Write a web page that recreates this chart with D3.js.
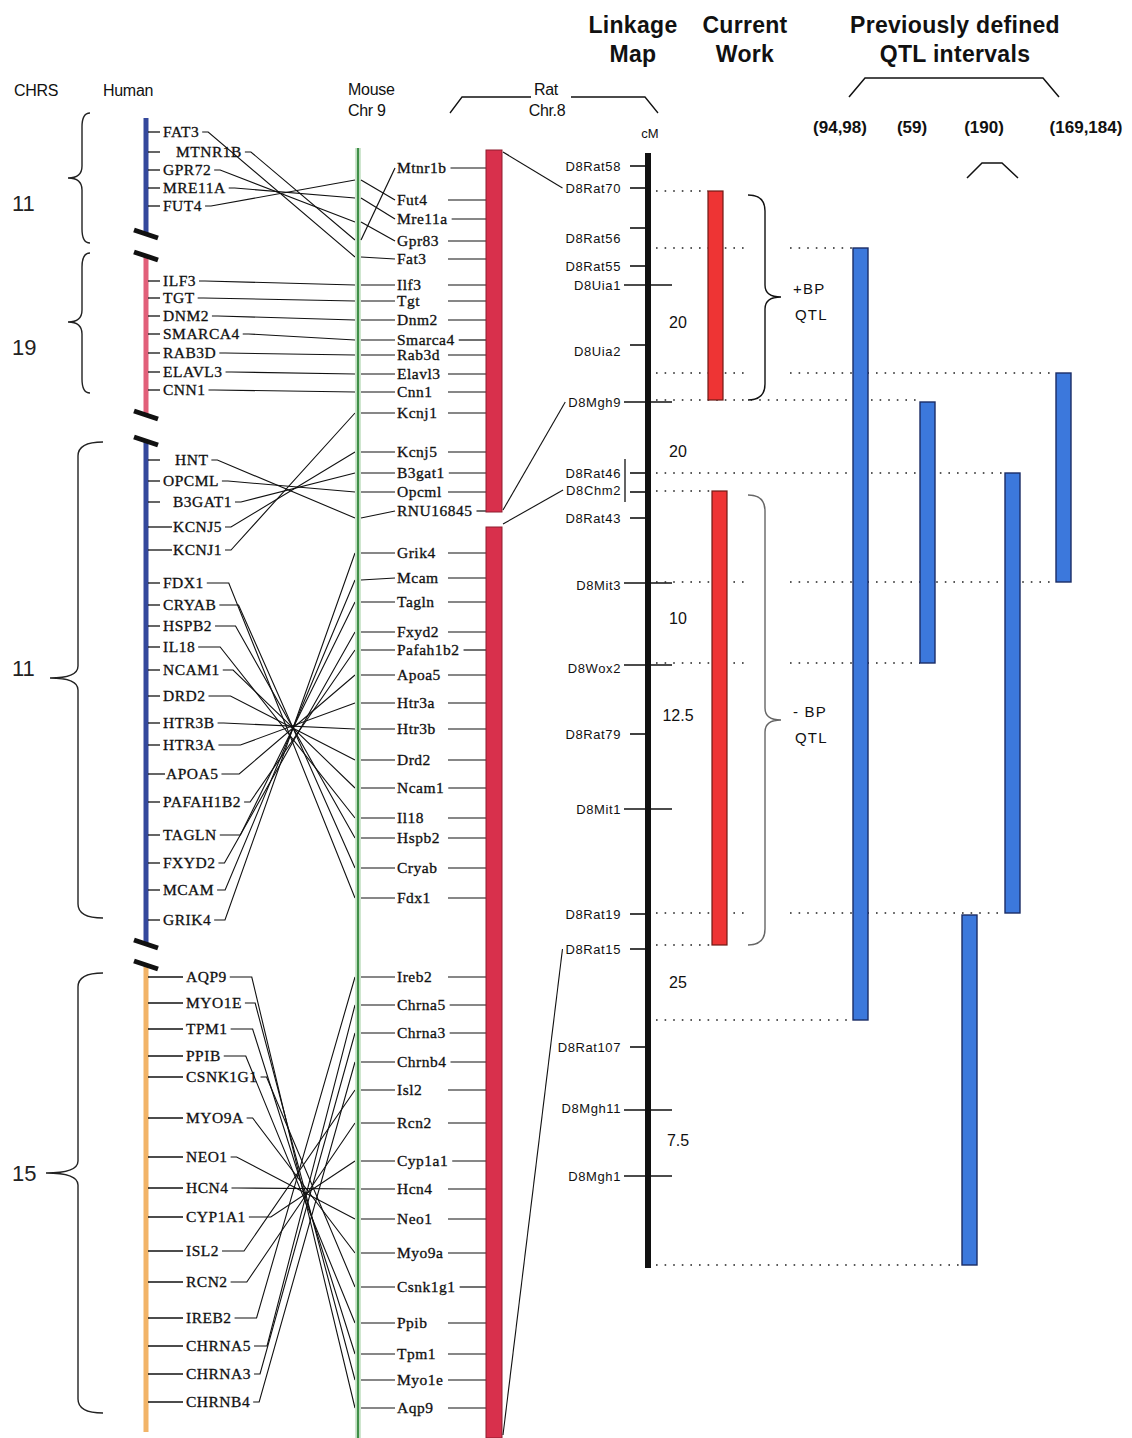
<!DOCTYPE html>
<html>
<head>
<meta charset="utf-8">
<script src="https://cdn.jsdelivr.net/npm/d3@7"></script>
<style>
  body { margin: 0; background: #fff; }
  svg { display: block; }
</style>
</head>
<body>
<svg id="chart" width="1132" height="1438"></svg>
<script>
// ---------- Data (positions are in map units along the vertical axis) ----------

// Human chromosome segments
const humanSegChr   = ["11", "19", "11", "15"];
const humanSegStart = [118, 256, 441, 965];
const humanSegEnd   = [234, 415, 944, 1432];

// Human genes and their positions
const humanGenes = [
  "FAT3", "MTNR1B", "GPR72", "MRE11A", "FUT4",
  "ILF3", "TGT", "DNM2", "SMARCA4", "RAB3D", "ELAVL3", "CNN1",
  "HNT", "OPCML", "B3GAT1", "KCNJ5", "KCNJ1", "FDX1", "CRYAB", "HSPB2", "IL18",
  "NCAM1", "DRD2", "HTR3B", "HTR3A", "APOA5", "PAFAH1B2", "TAGLN", "FXYD2", "MCAM", "GRIK4",
  "AQP9", "MYO1E", "TPM1", "PPIB", "CSNK1G1", "MYO9A", "NEO1", "HCN4", "CYP1A1",
  "ISL2", "RCN2", "IREB2", "CHRNA5", "CHRNA3", "CHRNB4"
];
const humanPos = [
  132, 152, 170, 188, 206,
  281, 298, 316, 334, 353, 372, 390,
  460, 481, 502, 527, 550, 583, 605, 626, 647,
  670, 696, 723, 745, 774, 802, 835, 863, 890, 920,
  977, 1003, 1029, 1056, 1077, 1118, 1157, 1188, 1217,
  1251, 1282, 1318, 1346, 1374, 1402
];

// Mouse chromosome 9 genes: label position, position on the chromosome, human ortholog
const mouseGenes = [
  "Mtnr1b", "Fut4", "Mre11a", "Gpr83", "Fat3",
  "Ilf3", "Tgt", "Dnm2", "Smarca4", "Rab3d", "Elavl3", "Cnn1",
  "Kcnj1", "Kcnj5", "B3gat1", "Opcml", "RNU16845",
  "Grik4", "Mcam", "Tagln", "Fxyd2", "Pafah1b2", "Apoa5", "Htr3a", "Htr3b",
  "Drd2", "Ncam1", "Il18", "Hspb2", "Cryab", "Fdx1",
  "Ireb2", "Chrna5", "Chrna3", "Chrnb4", "Isl2", "Rcn2", "Cyp1a1", "Hcn4",
  "Neo1", "Myo9a", "Csnk1g1", "Ppib", "Tpm1", "Myo1e", "Aqp9"
];
const mouseLabelPos = [
  168, 200, 219, 241, 259,
  285, 301, 320, 340, 355, 374, 392,
  413, 452, 473, 492, 511,
  553, 578, 602, 632, 650, 675, 703, 729,
  760, 788, 818, 838, 868, 898,
  977, 1005, 1033, 1062, 1090, 1123, 1161, 1189,
  1219, 1253, 1287, 1323, 1354, 1380, 1408
];
const mouseChrPos = [
  240, 180, 198, 222, 257,
  285, 301, 320, 340, 355, 374, 392,
  413, 452, 473, 492, 518,
  553, 580, 602, 632, 650, 675, 703, 729,
  760, 788, 818, 838, 868, 898,
  977, 1005, 1033, 1062, 1090, 1123, 1161, 1189,
  1219, 1253, 1287, 1323, 1354, 1380, 1408
];
const mouseOrtholog = [
  "MTNR1B", "FUT4", "MRE11A", "GPR72", "FAT3",
  "ILF3", "TGT", "DNM2", "SMARCA4", "RAB3D", "ELAVL3", "CNN1",
  "KCNJ1", "KCNJ5", "B3GAT1", "OPCML", "HNT",
  "GRIK4", "MCAM", "TAGLN", "FXYD2", "PAFAH1B2", "APOA5", "HTR3A", "HTR3B",
  "DRD2", "NCAM1", "IL18", "HSPB2", "CRYAB", "FDX1",
  "IREB2", "CHRNA5", "CHRNA3", "CHRNB4", "ISL2", "RCN2", "CYP1A1", "HCN4",
  "NEO1", "MYO9A", "CSNK1G1", "PPIB", "TPM1", "MYO1E", "AQP9"
];

// Rat chromosome 8 segments and the linkage markers their ends align with
const ratSegStart = [150, 527];
const ratSegEnd   = [512, 1438];
const ratSegStartMarker = ["D8Rat70", "D8Chm2"];
const ratSegEndMarker   = ["D8Mgh9", "D8Rat15"];

// Linkage map markers
const markers = [
  "D8Rat58", "D8Rat70", "D8Rat56", "D8Rat55", "D8Uia1", "D8Uia2", "D8Mgh9",
  "D8Rat46", "D8Chm2", "D8Rat43", "D8Mit3", "D8Wox2", "D8Rat79", "D8Mit1",
  "D8Rat19", "D8Rat15", "D8Rat107", "D8Mgh11", "D8Mgh1"
];
const markerPos = [
  166, 188, 228, 266, 285, 345, 402,
  473, 492, 518, 583, 665, 734, 809,
  914, 949, 1047, 1110, 1176
];
const markerLabelPos = [
  166, 188, 238, 266, 285, 351, 402,
  473, 490, 518, 585, 668, 734, 809,
  914, 949, 1047, 1108, 1176
];
const frameworkMarkers = ["D8Uia1", "D8Mgh9", "D8Mit3", "D8Wox2", "D8Mit1", "D8Mgh11", "D8Mgh1"];
const linkageStart = 153, linkageEnd = 1268;

// Interval distances (cM)
const cmText = ["20", "20", "10", "12.5", "25", "7.5"];
const cmPos  = [322, 451, 618, 715, 982, 1140];

// Current work QTL intervals
const currentStart = [191, 491];
const currentEnd   = [400, 945];
const currentSign  = ["+BP", "- BP"];

// Previously defined QTL intervals
const qtlStudies = ["(94,98)", "(59)", "(190)", "(169,184)"];
const qtlStudyOf = [0, 1, 2, 2, 3];
const qtlStart   = [248, 402, 473, 915, 373];
const qtlEnd     = [1020, 663, 913, 1265, 582];

// ---------- Layout ----------
const W = 1132, H = 1438;
const FS = "'Liberation Sans', Arial, sans-serif";
const FR = "'Liberation Serif', 'Times New Roman', serif";
const humanX = 146, mouseX = 358, ratX = 486, ratW = 16, linkX = 648;
const segColor = ["#34489c", "#e2607a", "#34489c", "#f2b468"];
const humanBrace = [[113, 243, 178], [253, 393, 322], [442, 918, 678], [973, 1413, 1173]];
const humanBraceX = [[90, 82, 68], [90, 82, 68], [103, 78, 50], [103, 78, 46]];
const humanChrLabelY = [203, 347, 668, 1173];
const qtlBarX = [853, 920, 1005, 962, 1056];
const currentBarX = [708, 712];
const qtlLabelX = [840, 912, 984, 1086];
const spacedLabels = { MTNR1B: 13, HNT: 12, B3GAT1: 10, KCNJ5: 10, KCNJ1: 10, APOA5: 3 };
// where the crossing bundles of connector lines meet (human position range -> knot)
const knots = [
  { from: 441, to: 560, x: 285, y: 490 },
  { from: 570, to: 944, x: 293, y: 728 },
  { from: 965, to: 1432, x: 306, y: 1195 }
];
const maxStub = 22;

const y = d3.scaleLinear().domain([0, H]).range([0, H]);
const svg = d3.select("#chart");

function brace(y0, y1, yt, xe, xv, xt, r) {
  return `M${xe},${y0} Q${xv},${y0} ${xv},${y0 + r} L${xv},${yt - 12} Q${xv},${yt} ${xt},${yt}` +
         ` Q${xv},${yt} ${xv},${yt + 12} L${xv},${y1 - r} Q${xv},${y1} ${xe},${y1}`;
}

// ---------- Header ----------
const head = svg.append("g").attr("font-family", FS).attr("fill", "#111");
[["Linkage", 633, 33], ["Map", 633, 62], ["Current", 745, 33], ["Work", 745, 62],
 ["Previously defined", 955, 33], ["QTL intervals", 955, 62]].forEach(([t, x, yy]) => {
  head.append("text").attr("x", x).attr("y", yy).attr("text-anchor", "middle")
    .attr("font-size", 23).attr("font-weight", "bold").attr("letter-spacing", 0.3).text(t);
});
[["CHRS", 14, 96, "start"], ["Human", 103, 96, "start"], ["Mouse", 348, 95, "start"],
 ["Chr 9", 348, 116, "start"], ["Rat", 546, 95, "middle"], ["Chr.8", 547, 116, "middle"]].forEach(([t, x, yy, a]) => {
  head.append("text").attr("x", x).attr("y", yy).attr("text-anchor", a)
    .attr("font-size", 16).attr("letter-spacing", -0.3).text(t);
});
head.append("text").attr("x", 650).attr("y", 138).attr("text-anchor", "middle").attr("font-size", 13).text("cM");

// Rat bracket
svg.append("path").attr("d", "M450,113 L462,97 L531,97 M571,97 L645,97 L658,113")
  .attr("fill", "none").attr("stroke", "#111").attr("stroke-width", 1.3);
// QTL bracket and caret
svg.append("path").attr("d", "M849,97 L865,78 L1043,78 L1059,97 M967,178 L982,163 L1002,163 L1018,178")
  .attr("fill", "none").attr("stroke", "#111").attr("stroke-width", 1.5);
qtlStudies.forEach((s, i) => {
  head.append("text").attr("x", qtlLabelX[i]).attr("y", 133).attr("text-anchor", "middle")
    .attr("font-size", 17).attr("font-weight", "bold").text(s);
});

// ---------- Human chromosome ----------
const hg = svg.append("g");
humanSegChr.forEach((c, i) => {
  hg.append("line").attr("x1", humanX).attr("x2", humanX)
    .attr("y1", y(humanSegStart[i])).attr("y2", y(humanSegEnd[i]))
    .attr("stroke", segColor[i]).attr("stroke-width", 5);
  const [b0, b1, bt] = humanBrace[i];
  const [xe, xv, xt] = humanBraceX[i];
  hg.append("path").attr("d", brace(y(b0), y(b1), y(bt), xe, xv, xt, 14))
    .attr("fill", "none").attr("stroke", "#222").attr("stroke-width", 1.4);
  hg.append("text").attr("x", 12).attr("y", y(humanChrLabelY[i]) + 8)
    .attr("font-family", FS).attr("font-size", 22).attr("fill", "#222").text(c);
});
// break marks between segments
const breaks = [];
humanSegStart.forEach((s, i) => { if (i > 0) breaks.push(s); });
humanSegEnd.forEach((e, i) => { if (i < humanSegEnd.length - 1) breaks.push(e); });
hg.selectAll("line.brk").data(breaks).join("line").attr("class", "brk")
  .attr("x1", humanX - 12).attr("x2", humanX + 12)
  .attr("y1", d => y(d) - 4).attr("y2", d => y(d) + 4)
  .attr("stroke", "#111").attr("stroke-width", 5);

function segOf(p) { return humanSegStart.findIndex((s, i) => p >= s - 5 && p <= humanSegEnd[i] + 5); }

const humanEnd = {};
humanGenes.forEach((gname, i) => {
  const p = y(humanPos[i]);
  const seg = segOf(humanPos[i]);
  const base = seg === 3 ? 186 : 163;
  const ind = spacedLabels[gname] || 0;
  const lx = base + ind;
  const tickEnd = seg === 3 ? 183 : (ind && ind < 10 ? lx - 1 : (["KCNJ5", "KCNJ1"].includes(gname) ? lx - 1 : 160));
  hg.append("line").attr("x1", humanX + 2).attr("x2", tickEnd).attr("y1", p).attr("y2", p)
    .attr("stroke", "#111").attr("stroke-width", 1.3);
  const t = hg.append("text").attr("x", lx).attr("y", p + 5)
    .attr("font-family", FR).attr("font-size", 15.5).attr("letter-spacing", 0.5).attr("fill", "#111")
    .attr("stroke", "#111").attr("stroke-width", 0.3).text(gname);
  humanEnd[gname] = lx + t.node().getComputedTextLength();
});

// ---------- Human–mouse connections ----------
const cg = svg.append("g").attr("fill", "none").attr("stroke", "#111").attr("stroke-width", 1.1);
mouseGenes.forEach((m, i) => {
  const h = mouseOrtholog[i];
  const hi = humanGenes.indexOf(h);
  if (hi < 0) return;
  const ya = y(humanPos[hi]);
  const yb = y(mouseChrPos[i]);
  const xb = mouseX - 3;
  const xs = humanEnd[h] + 3;
  let xBend = xs + 6;
  const k = knots.find(k => humanPos[hi] >= k.from && humanPos[hi] <= k.to);
  if (k && Math.abs(yb - y(k.y)) > 4) {
    const xc = k.x + (ya - y(k.y)) * (xb - k.x) / (yb - y(k.y));
    if (xc > xBend && xc < k.x) xBend = Math.min(xc, xs + maxStub);
  }
  cg.append("path").attr("d", `M${xs},${ya} L${xBend},${ya} L${xb},${yb}`);
});

// ---------- Mouse chromosome ----------
const mg = svg.append("g");
mg.append("line").attr("x1", mouseX).attr("x2", mouseX).attr("y1", y(148)).attr("y2", y(H))
  .attr("stroke", "#cfe6cf").attr("stroke-width", 6);
mg.append("line").attr("x1", mouseX).attr("x2", mouseX).attr("y1", y(148)).attr("y2", y(H))
  .attr("stroke", "#3f8f47").attr("stroke-width", 2.2);

mouseGenes.forEach((m, i) => {
  const ly = y(mouseLabelPos[i]);
  mg.append("line").attr("x1", mouseX + 3).attr("y1", y(mouseChrPos[i]))
    .attr("x2", 395).attr("y2", ly).attr("stroke", "#111").attr("stroke-width", 1.2);
  const t = mg.append("text").attr("x", 397).attr("y", ly + 5)
    .attr("font-family", FR).attr("font-size", 15.5).attr("letter-spacing", 0.5).attr("fill", "#111")
    .attr("stroke", "#111").attr("stroke-width", 0.3).text(m);
  const e = 397 + t.node().getComputedTextLength();
  mg.append("line").attr("x1", Math.max(e + 4, 448)).attr("x2", ratX).attr("y1", ly).attr("y2", ly)
    .attr("stroke", "#111").attr("stroke-width", 1.2);
});

// ---------- Linkage map ----------
const lg = svg.append("g");
lg.append("line").attr("x1", linkX).attr("x2", linkX).attr("y1", y(linkageStart)).attr("y2", y(linkageEnd))
  .attr("stroke", "#111").attr("stroke-width", 6);
const markerLeft = {};
markers.forEach((mk, i) => {
  const p = y(markerPos[i]);
  const fw = frameworkMarkers.includes(mk);
  lg.append("line").attr("x1", fw ? 624 : 630).attr("x2", fw ? 672 : linkX)
    .attr("y1", p).attr("y2", p).attr("stroke", "#111").attr("stroke-width", 1.6);
  const t = lg.append("text").attr("x", 621).attr("y", y(markerLabelPos[i]) + 4.5)
    .attr("text-anchor", "end").attr("font-family", FS).attr("font-size", 13)
    .attr("letter-spacing", 0.6).attr("fill", "#111").text(mk);
  markerLeft[mk] = 621 - t.node().getComputedTextLength() - 3;
});
// bar spanning D8Rat46 / D8Chm2
lg.append("line").attr("x1", 625).attr("x2", 625).attr("y1", y(459)).attr("y2", y(502))
  .attr("stroke", "#111").attr("stroke-width", 1.3);
cmText.forEach((t, i) => {
  lg.append("text").attr("x", 678).attr("y", y(cmPos[i]) + 6).attr("text-anchor", "middle")
    .attr("font-family", FS).attr("font-size", 16).attr("fill", "#111").text(t);
});

// ---------- Rat chromosome and its anchors on the linkage map ----------
const rg = svg.append("g");
ratSegStart.forEach((s, i) => {
  rg.append("rect").attr("x", ratX).attr("y", y(s)).attr("width", ratW).attr("height", y(ratSegEnd[i]) - y(s))
    .attr("fill", "#d8304c").attr("stroke", "#8e1c2e").attr("stroke-width", 1);
  const ms = ratSegStartMarker[i], me = ratSegEndMarker[i];
  const ps = markerLabelPos[markers.indexOf(ms)], pe = markerLabelPos[markers.indexOf(me)];
  rg.append("line").attr("x1", ratX + ratW + 1).attr("y1", y(s) + (i === 0 ? 2 : -3))
    .attr("x2", markerLeft[ms]).attr("y2", y(ps)).attr("stroke", "#111").attr("stroke-width", 1.1);
  rg.append("line").attr("x1", ratX + ratW + 1).attr("y1", y(ratSegEnd[i]) - (i === 0 ? 2 : 3))
    .attr("x2", markerLeft[me]).attr("y2", y(pe)).attr("stroke", "#111").attr("stroke-width", 1.1);
});

// ---------- Dotted guides ----------
const guides = [];
function addGuide(p, x1) {
  const g0 = guides.find(g => Math.abs(g.p - p) <= 3);
  if (g0) g0.x1 = Math.max(g0.x1, x1); else guides.push({ p, x1 });
}
currentStart.forEach((s, i) => { addGuide(s, currentBarX[i]); addGuide(currentEnd[i], currentBarX[i]); });
qtlStart.forEach((s, i) => { addGuide(s, qtlBarX[i]); addGuide(qtlEnd[i], qtlBarX[i]); });
const dg = svg.append("g").attr("stroke", "#222").attr("stroke-width", 1.6).attr("stroke-dasharray", "1.6,7");
guides.forEach(g => {
  const inBrace = currentStart.some((s, i) => g.p > s + 6 && g.p < currentEnd[i] - 6);
  const segs = (inBrace && g.x1 > 790) ? [[656, 745], [790, g.x1]] : [[656, Math.min(g.x1, inBrace ? 745 : g.x1)]];
  segs.forEach(([a, b]) => dg.append("line").attr("x1", a).attr("x2", b).attr("y1", y(g.p)).attr("y2", y(g.p)));
});

// ---------- Current work intervals ----------
const wg = svg.append("g");
currentStart.forEach((s, i) => {
  wg.append("rect").attr("x", currentBarX[i]).attr("y", y(s)).attr("width", 15).attr("height", y(currentEnd[i]) - y(s))
    .attr("fill", "#ee3434").attr("stroke", "#6e1a14").attr("stroke-width", 1.2);
  const mid = i === 0 ? 297 : 720;
  wg.append("path").attr("d", brace(y(s) + 4, y(currentEnd[i]), y(mid), 748, 765, 781, 16))
    .attr("fill", "none").attr("stroke", i === 0 ? "#111" : "#666").attr("stroke-width", 1.4);
  wg.append("text").attr("x", 793).attr("y", y(mid) - 3).attr("font-family", FS).attr("font-size", 15)
    .attr("letter-spacing", 1.2).attr("fill", "#111").text(currentSign[i]);
  wg.append("text").attr("x", 795).attr("y", y(mid) + 23).attr("font-family", FS).attr("font-size", 15)
    .attr("letter-spacing", 1.2).attr("fill", "#111").text("QTL");
});

// ---------- Previously defined QTL intervals ----------
const qg = svg.append("g");
qtlStart.forEach((s, i) => {
  qg.append("rect").attr("x", qtlBarX[i]).attr("y", y(s)).attr("width", 15).attr("height", y(qtlEnd[i]) - y(s))
    .attr("fill", "#3c78dc").attr("stroke", "#1b2d66").attr("stroke-width", 1.4)
    .attr("data-study", qtlStudies[qtlStudyOf[i]]);
});
</script>
</body>
</html>
